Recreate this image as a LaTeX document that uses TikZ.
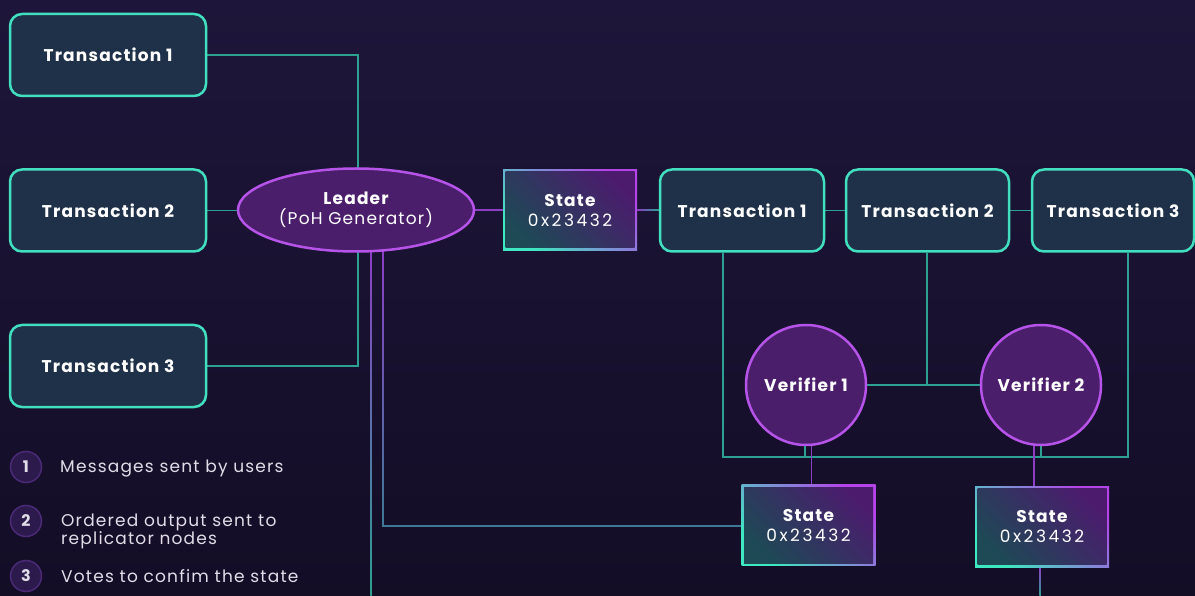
\documentclass[tikz,border=0pt]{standalone}
\usepackage{fontspec}
\setmainfont{Poppins}
\newfontfamily\lblfont{Poppins}[LetterSpace=7]
\newfontfamily\hexfont{Poppins}[LetterSpace=15]
\usetikzlibrary{shapes.geometric,calc}
\pgfdeclarelayer{bgl}\pgfdeclarelayer{lines}\pgfsetlayers{bgl,lines,main}
\definecolor{bgtop}{RGB}{29,22,58}
\definecolor{bgbot}{RGB}{20,13,38}
\definecolor{txfill}{RGB}{31,49,73}
\definecolor{txborder}{RGB}{66,222,192}
\definecolor{purpfill}{RGB}{74,30,107}
\definecolor{purpborder}{RGB}{182,83,232}
\definecolor{lineteal}{RGB}{44,160,145}
\definecolor{linepurp}{RGB}{140,62,196}
\definecolor{lineblue}{RGB}{62,122,150}
\definecolor{stBL}{RGB}{62,232,192}
\definecolor{stTR}{RGB}{180,68,232}
\definecolor{inBL}{RGB}{29,74,85}
\definecolor{inTR}{RGB}{76,27,110}
\definecolor{legfill}{RGB}{43,26,75}
\definecolor{legborder}{RGB}{75,42,120}
\definecolor{legtext}{RGB}{224,220,232}
\begin{document}
\begin{tikzpicture}[x=1pt,y=-1pt,
  tx/.style={draw=txborder, line width=2.5pt, fill=txfill, rounded corners=12pt,
    minimum height=82pt, inner sep=0pt, text=white,
    font=\lblfont\bfseries\fontsize{17}{20}\selectfont},
  purpnode/.style={draw=purpborder, line width=2.5pt, fill=purpfill, inner sep=0pt,
    align=center, text=white, font=\lblfont\fontsize{17}{20}\selectfont},
  lead/.style={purpnode, ellipse, minimum width=236pt, minimum height=83pt},
  ver/.style={purpnode, circle, minimum size=120pt, font=\lblfont\bfseries\fontsize{17}{20}\selectfont},
  statebox/.style={minimum width=134pt, minimum height=81pt, inner sep=0pt,
    left color=stBL, right color=stTR, shading angle=135, align=center, text=white,
    font=\lblfont\fontsize{17}{20}\selectfont,
    path picture={\shade[left color=inBL, right color=inTR, shading angle=135]
      ([shift={(2.5pt,2.5pt)}]path picture bounding box.south west) rectangle
      ([shift={(-2.5pt,-2.5pt)}]path picture bounding box.north east);}},
  conn/.style={draw=lineteal, line width=1.4pt},
  pconn/.style={draw=linepurp, line width=1.5pt},
  leg/.style={circle, draw=legborder, line width=1.5pt, fill=legfill, minimum size=31pt,
    inner sep=0pt, text=legtext, font=\bfseries\fontsize{16}{18}\selectfont},
  legtxt/.style={anchor=west, inner sep=0pt, text=legtext, align=left,
    font=\lblfont\fontsize{17}{18}\selectfont}
]
\begin{pgfonlayer}{bgl}
\shade[top color=bgtop, bottom color=bgbot] (0,0) rectangle (1195,596);
\end{pgfonlayer}
\useasboundingbox (0,0) rectangle (1195,596);

% left transactions
\node[tx, minimum width=196pt] (tx1) at (108,55) {Transaction 1};
\node[tx, minimum width=196pt] (tx2) at (108,210.5) {Transaction 2};
\node[tx, minimum width=196pt] (tx3) at (108,366) {Transaction 3};
% leader
\node[lead] (lead) at (356,210) {{\bfseries Leader}\\(PoH Generator)};
% states
\node[statebox] (st0) at (570,210) {{\bfseries State}\\{\hexfont 0x23432}};
\node[statebox] (st1) at (808.5,525) {{\bfseries State}\\{\hexfont 0x23432}};
\node[statebox] (st2) at (1042,526.5) {{\bfseries State}\\{\hexfont 0x23432}};
% right transactions
\node[tx, minimum width=164pt] (rt1) at (742,210.5) {Transaction 1};
\node[tx, minimum width=163pt] (rt2) at (927.5,210.5) {Transaction 2};
\node[tx, minimum width=162pt] (rt3) at (1113,210.5) {Transaction 3};
% verifiers
\node[ver] (v1) at (806,385) {Verifier 1};
\node[ver] (v2) at (1041,385) {Verifier 2};
% legend
\node[leg] (n1) at (26,467) {1};
\node[leg] (n2) at (26,521) {2};
\node[leg] (n3) at (26,576) {3};
\node[legtxt] (l1) at (60,469) {Messages sent by users};
\node[legtxt] (l2) at (61,531) {Ordered output sent to\\replicator nodes};
\node[legtxt] (l3) at (61,576) {Votes to confim the state};

% helper coordinates
\coordinate (busL) at (723,457);
\coordinate (busR) at (1128,457);
\coordinate (b1) at (371,596);
\coordinate (b2) at (1040,596);
\coordinate (c2) at (383,526);

\begin{pgfonlayer}{lines}
\draw[conn] (tx1.east) -| ($(lead.north)+(2,2)$);
\draw[conn] (tx2.east) -- (tx2.east -| lead.west);
\draw[conn] (tx3.east) -| ($(lead.south)+(2,-2)$);
\draw[pconn] (lead.east) -- (lead.east -| st0.west);
\shade[left color=linepurp, right color=lineteal] ($(st0.east)+(0,-0.75)$) rectangle ($(st0.east -| rt1.west)+(0,0.75)$);
\draw[conn] (rt1.east) -- (rt1.east -| rt2.west);
\draw[conn] (rt2.east) -- (rt2.east -| rt3.west);
\draw[conn] (rt1.south -| busL) -- (busL) -- (busR) -- (rt3.south -| busR);
\draw[conn] ($(rt2.south)+(-0.5,0)$) -- ($(rt2.south |- v1.east)+(-0.5,0)$);
\draw[conn] (v1.east) -- (v2.west);
\draw[conn] ($(v1.south)+(-1,-3)$) -- ($(v1.south |- busL)+(-1,0)$);
\draw[conn] ($(v2.south)+(0,-3)$) -- (v2.south |- busL);
\draw[pconn] ($(v1.south)+(5.5,-3)$) -- ($(st1.north)+(3,0)$);
\draw[pconn] ($(v2.south)+(-7,-3)$) -- ($(st2.north)+(-8,0)$);
% gradient connectors
\shade[top color=linepurp, bottom color=lineteal] ($(lead.south -| b1)+(-0.75,-3)$) rectangle ($(b1)+(0.75,0)$);
\shade[top color=linepurp, bottom color=lineblue] ($(lead.south -| c2)+(-0.75,-3)$) rectangle ($(c2)+(0.75,0.75)$);
\draw[draw=lineblue, line width=1.5pt] ($(c2)+(-0.75,0)$) -- (c2 -| st1.west);
\shade[top color=linepurp, bottom color=lineteal] ($(st2.south -| b2)+(-0.75,0)$) rectangle ($(b2)+(0.75,0)$);
\end{pgfonlayer}
\end{tikzpicture}
\end{document}
